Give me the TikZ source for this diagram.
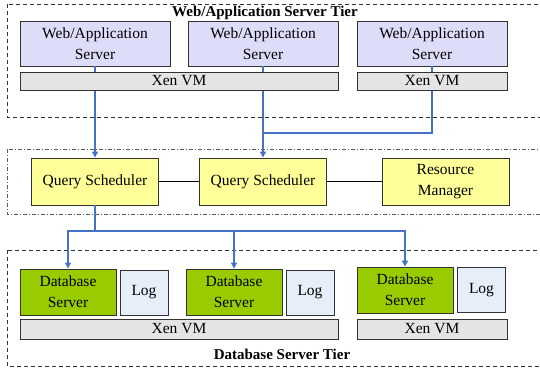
\documentclass[tikz,border=0pt]{standalone}
\usepackage{fontspec}
\setmainfont{Liberation Serif}
\usepackage{tikz}
\usetikzlibrary{arrows.meta}

\definecolor{webfill}{RGB}{221,221,250}
\definecolor{xenfill}{RGB}{228,228,228}
\definecolor{qsfill}{RGB}{255,255,153}
\definecolor{dbfill}{RGB}{153,204,0}
\definecolor{logfill}{RGB}{230,238,250}
\definecolor{linkblue}{RGB}{68,114,196}
\definecolor{edge}{RGB}{50,50,50}

\begin{document}
\begin{tikzpicture}[
    x=1pt, y=-1pt,
    font=\fontsize{15.5}{21}\selectfont,
    box/.style={draw=edge, line width=0.9pt, align=center, inner sep=1pt},
    websrv/.style={box, fill=webfill, minimum width=150pt, minimum height=45pt},
    xenvm/.style={box, fill=xenfill, minimum height=18pt},
    sched/.style={box, fill=qsfill, minimum width=127pt, minimum height=47pt},
    dbsrv/.style={box, fill=dbfill, minimum width=96pt, minimum height=46pt},
    logbox/.style={box, fill=logfill, minimum width=48pt, minimum height=45pt},
    tier/.style={draw=edge, line width=0.8pt, dash pattern=on 4pt off 3pt},
    tiermid/.style={draw=edge!80, line width=0.8pt, dash pattern=on 4pt off 2pt on 1pt off 2pt},
    tiertitle/.style={font=\fontsize{15}{18}\selectfont\bfseries},
    link/.style={linkblue, line width=1.3pt},
    arrow/.style={link, -{Triangle[length=6pt,width=6pt]}},
    peer/.style={black, line width=1.4pt}
]
    \useasboundingbox (0,0) rectangle (540,372);

    % tiers
    \draw[tier] (7,4) rectangle (548,117);
    \draw[tiermid] (7,149) rectangle (548,214);
    \draw[tier] (7,250) rectangle (548,366);
    \node[tiertitle] (webtitle) at (265,13) {Web/Application Server Tier};
    \node[tiertitle] (dbtitle) at (282,354) {Database Server Tier};

    % web/application tier
    \node[websrv] (web1) at (95,43.5) {Web/Application\\Server};
    \node[websrv] (web2) at (263,43.5) {Web/Application\\Server};
    \node[websrv] (web3) at (432,43.5) {Web/Application\\Server};

    % schedulers
    \node[sched] (qs1) at (95,181.5) {Query Scheduler};
    \node[sched] (qs2) at (263,181.5) {Query Scheduler};
    \node[sched] (rm) at (445.5,181.5) {Resource\\Manager};

    \coordinate (join) at (263,133);
    \coordinate (split) at (95,231);

    \draw[arrow] (web1.south) -- (qs1.north);
    \draw[arrow] (web2.south) -- (qs2.north);
    \draw[link] (web3.south) |- (join);
    \draw[peer] (qs1) -- (qs2);
    \draw[peer] (qs2) -- (rm);

    \node[xenvm, minimum width=318pt] (xen1) at (179,81) {Xen VM};
    \node[xenvm, minimum width=150pt] (xen2) at (432,81) {Xen VM};

    % database tier
    \node[dbsrv] (db1) at (68,292) {Database\\Server};
    \node[logbox] (log1) at (144,292.5) {Log};
    \node[dbsrv] (db2) at (234,292) {Database\\Server};
    \node[logbox] (log2) at (310,292.5) {Log};
    \node[dbsrv] (db3) at (405,290) {Database\\Server};
    \node[logbox] (log3) at (481.5,290) {Log};
    \node[xenvm, minimum width=318pt, minimum height=20pt] (xen3) at (179,329) {Xen VM};
    \node[xenvm, minimum width=150pt, minimum height=20pt] (xen4) at (432,329) {Xen VM};

    \draw[link] (qs1.south) -- (split);
    \draw[arrow] (split) -| (db1.north);
    \draw[arrow] (split) -| (db2.north);
    \draw[arrow] (split) -| (db3.north);
\end{tikzpicture}
\end{document}
